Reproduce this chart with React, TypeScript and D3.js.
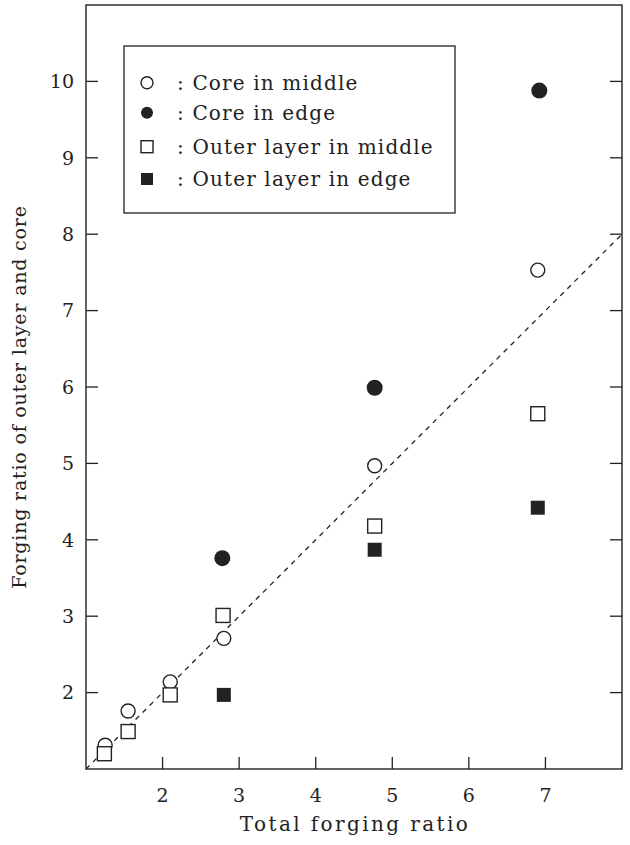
import React from 'react';
import * as d3 from 'd3';

// values
const xTicks = [2, 3, 4, 5, 6, 7];
const yTicks = [2, 3, 4, 5, 6, 7, 8, 9, 10];

const coreMiddleX = [1.25, 1.55, 2.1, 2.8, 4.77, 6.9];
const coreMiddleY = [1.31, 1.76, 2.14, 2.71, 4.97, 7.53];

const coreEdgeX = [2.78, 4.77, 6.92];
const coreEdgeY = [3.76, 5.99, 9.88];

const outerMiddleX = [1.24, 1.55, 2.1, 2.79, 4.77, 6.9];
const outerMiddleY = [1.2, 1.49, 1.97, 3.01, 4.18, 5.65];

const outerEdgeX = [2.8, 4.77, 6.9];
const outerEdgeY = [1.97, 3.87, 4.42];

const refLine = [1, 8]; // y = x

const legendLabels = [
  ': Core in middle',
  ': Core in edge',
  ': Outer layer in middle',
  ': Outer layer in edge',
];

const W = 630;
const H = 845;
const font = 'DejaVu Serif';
const ink = '#222';

export default function App() {
  const x = d3.scaleLinear().domain([1, 8]).range([86, 622]);
  const y = d3.scaleLinear().domain([1, 11]).range([769, 5]);

  const line = d3
    .line<number>()
    .x((d) => x(d))
    .y((d) => y(d));

  const zip = (xs: number[], ys: number[]) => xs.map((v, i) => [v, ys[i]]);

  // marker by kind: 0 open circle, 1 filled circle, 2 open square, 3 filled square
  const marker = (kind: number, cx: number, cy: number, r: number, key: string) => {
    if (kind === 0)
      return <circle key={key} cx={cx} cy={cy} r={r} fill="#fff" stroke={ink} strokeWidth={1.4} />;
    if (kind === 1) return <circle key={key} cx={cx} cy={cy} r={r + 0.6} fill={ink} />;
    if (kind === 2)
      return (
        <rect key={key} x={cx - r} y={cy - r} width={2 * r} height={2 * r} fill="#fff" stroke={ink} strokeWidth={1.4} />
      );
    return <rect key={key} x={cx - r} y={cy - r} width={2 * r} height={2 * r} fill={ink} />;
  };

  const legendRows = [82.7, 112.7, 146.7, 179];
  const txt = { fontFamily: font, fill: ink } as const;

  return (
    <svg width={W} height={H} style={{ position: 'absolute', left: 0, top: 0, background: '#fff' }}>
      {/* frame */}
      <rect x={x(1)} y={y(11)} width={x(8) - x(1)} height={y(1) - y(11)} fill="none" stroke={ink} strokeWidth={1.4} />

      {/* x ticks */}
      {xTicks.map((t) => (
        <g key={'xt' + t}>
          <line x1={x(t)} x2={x(t)} y1={y(1)} y2={y(1) - 12} stroke={ink} strokeWidth={1.3} />
          <text x={x(t)} y={y(1) + 33} textAnchor="middle" fontSize={19} style={txt}>
            {t}
          </text>
        </g>
      ))}

      {/* y ticks, left and right */}
      {yTicks.map((t) => (
        <g key={'yt' + t}>
          <line x1={x(1)} x2={x(1) + 12} y1={y(t)} y2={y(t)} stroke={ink} strokeWidth={1.3} />
          <line x1={x(8)} x2={x(8) - 12} y1={y(t)} y2={y(t)} stroke={ink} strokeWidth={1.3} />
          <text x={x(1) - 12} y={y(t)} dy="0.36em" textAnchor="end" fontSize={19} style={txt}>
            {t}
          </text>
        </g>
      ))}

      {/* reference line y = x */}
      <path d={line(refLine) || ''} fill="none" stroke={ink} strokeWidth={1.3} strokeDasharray="5,5" />

      {/* data */}
      {zip(coreMiddleX, coreMiddleY).map(([a, b], i) => marker(0, x(a), y(b), 7, 'cm' + i))}
      {zip(coreEdgeX, coreEdgeY).map(([a, b], i) => marker(1, x(a), y(b), 7.4, 'ce' + i))}
      {zip(outerMiddleX, outerMiddleY).map(([a, b], i) => marker(2, x(a), y(b), 7, 'om' + i))}
      {zip(outerEdgeX, outerEdgeY).map(([a, b], i) => marker(3, x(a), y(b), 7, 'oe' + i))}

      {/* legend */}
      <rect x={124} y={46} width={331} height={167} fill="#fff" stroke={ink} strokeWidth={1.3} />
      {legendLabels.map((lab, i) => (
        <g key={'lg' + i}>
          {marker(i, 147, legendRows[i], i === 1 ? 5.4 : 6, 'lm' + i)}
          <text x={177} y={legendRows[i]} dy="0.36em" fontSize={20} letterSpacing={1.15} style={txt}>
            {lab}
          </text>
        </g>
      ))}

      {/* axis titles */}
      <text x={355} y={831} textAnchor="middle" fontSize={20} letterSpacing={2.4} style={txt}>
        Total forging ratio
      </text>
      <text
        transform={`translate(26, ${(y(1) + y(11)) / 2 + 10}) rotate(-90)`}
        textAnchor="middle"
        fontSize={19}
        letterSpacing={0.8}
        style={txt}
      >
        Forging ratio of outer layer and core
      </text>
    </svg>
  );
}
